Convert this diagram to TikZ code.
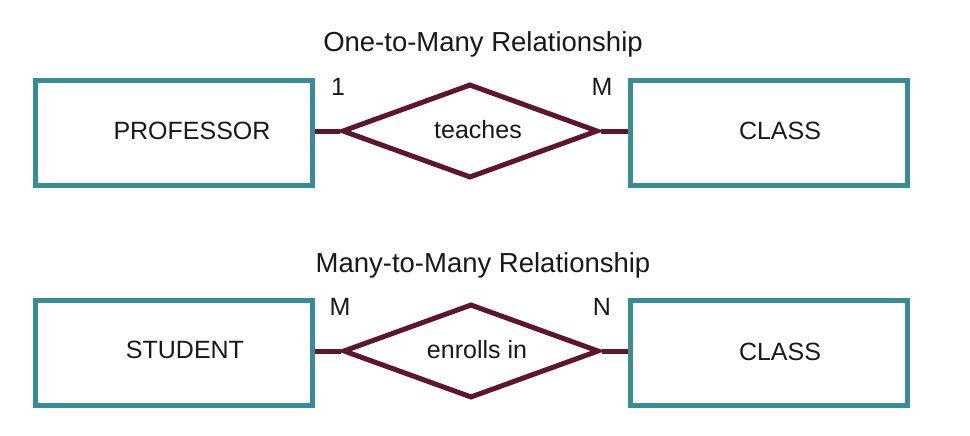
\documentclass[tikz,border=0pt]{standalone}
\usepackage{fontspec}
\setmainfont{Liberation Sans}
\usetikzlibrary{shapes.geometric}
\definecolor{boxteal}{RGB}{60,138,152}
\definecolor{relmaroon}{RGB}{92,22,48}
\definecolor{txt}{RGB}{25,25,25}
\begin{document}
\begin{tikzpicture}[x=1pt,y=-1pt,
  entity/.style={draw=boxteal,line width=5pt,rectangle,minimum width=277pt,minimum height=105pt,inner sep=0pt},
  relation/.style={draw=relmaroon,line width=5pt,diamond,minimum width=256pt,minimum height=94pt,inner sep=0pt},
  conn/.style={draw=relmaroon,line width=5pt},
  etext/.style={text=txt,font=\fontsize{25}{28}\selectfont,inner sep=0pt},
  title/.style={text=txt,font=\fontsize{27.5}{30}\selectfont,inner sep=0pt,anchor=base},
  card/.style={text=txt,font=\fontsize{25}{28}\selectfont,inner sep=0pt}]
\useasboundingbox (0,0) rectangle (970,436);
\fill[white] (0,0) rectangle (970,436);
% titles
\node[title] (t1) at (483,52) {One-to-Many Relationship};
\node[title] (t2) at (483,272) {Many-to-Many Relationship};
% top row
\node[entity] (prof) at (174,133) {};
\node[entity] (class1) at (769,133) {};
\node[relation] (teach) at (470,131) {};
\node[etext] (proft) at (192,131) {PROFESSOR};
\node[etext] (class1t) at (780,131) {CLASS};
\node[etext] (teacht) at (478,130) {teaches};
\draw[conn] (prof.east |- teach.west) -- (teach.west);
\draw[conn] (teach.east) -- (class1.west |- teach.east);
\node[card] (c1) at (338,87) {1};
\node[card] (c2) at (602,87) {M};
% bottom row
\node[entity] (stud) at (174,352.5) {};
\node[entity] (class2) at (768.5,353) {};
\node[relation] (enrol) at (471,351) {};
\node[etext] (studt) at (185,350) {STUDENT};
\node[etext] (class2t) at (780,352) {CLASS};
\node[etext] (enrolt) at (477,350) {enrolls in};
\draw[conn] (stud.east |- enrol.west) -- (enrol.west);
\draw[conn] (enrol.east) -- (class2.west |- enrol.east);
\node[card] (c3) at (340,307) {M};
\node[card] (c4) at (602,307) {N};
\end{tikzpicture}
\end{document}
